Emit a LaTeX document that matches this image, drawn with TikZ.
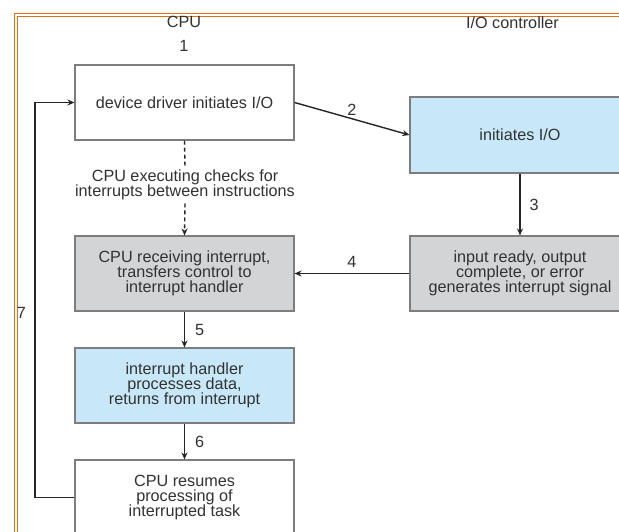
\documentclass[tikz,border=0pt]{standalone}
\usepackage{fontspec}
\setmainfont{Liberation Sans}
\usetikzlibrary{arrows.meta}
\definecolor{txt}{RGB}{50,50,50}
\definecolor{edge}{RGB}{125,125,125}
\definecolor{grayfill}{RGB}{211,212,214}
\definecolor{bluefill}{RGB}{200,232,249}
\definecolor{frameorange}{RGB}{222,112,24}
\tikzset{
  box/.style={draw=edge, line width=1.1pt, minimum width=219pt, minimum height=75pt, align=center, inner sep=0pt, text=txt},
  whitebox/.style={box, fill=white},
  graybox/.style={box, fill=grayfill},
  bluebox/.style={box, fill=bluefill},
  conn/.style={draw=black!85, line width=1.4pt, -{Stealth[length=7pt,width=6pt]}},
  plainconn/.style={draw=black!85, line width=1.4pt},
  lbl/.style={text=txt, inner sep=0pt, align=center},
}
\begin{document}
\begin{tikzpicture}[x=1pt,y=-1pt, font=\fontsize{16.2}{15.2}\selectfont]
\useasboundingbox (0,0) rectangle (619,531);
\clip (0,0) rectangle (619,531);
\fill[white] (0,0) rectangle (619,531);
% frame
\draw[frameorange, line width=1.4pt] (14.5,560) -- (14.5,13.5) -- (640,13.5);
\draw[frameorange, line width=1.4pt] (17.5,560) -- (17.5,16.5) -- (640,16.5);
% titles
\node[lbl] (cpu) at (184,22) {CPU};
\node[lbl] (ioc) at (512.5,22.5) {I/O controller};
\node[lbl] (n1) at (184,46) {1};
% boxes
\node[whitebox] (b1) at (184.5,102.5) {device driver initiates I/O};
\node[graybox] (b2) at (184.5,273.5) {CPU receiving interrupt,\\transfers control to\\interrupt handler};
\node[bluebox] (b3) at (184.5,385.5) {interrupt handler\\processes data,\\returns from interrupt};
\node[whitebox] (b4) at (184.5,497.5) {CPU resumes\\processing of\\interrupted task};
\node[bluebox, minimum width=220pt, minimum height=76pt] (io1) at (520,135) {initiates I/O};
\node[graybox, minimum width=220pt] (io2) at (520,273.5) {input ready, output\\complete, or error\\generates interrupt signal};
\node[lbl] (chk) at (185,185) {CPU executing checks for\\interrupts between instructions};
% connectors
\draw[conn] (b1.east) -- node[lbl, pos=0.5, above=3pt] {2} (io1.west);
\draw[conn] (io1.south) -- node[lbl, right=9pt] {3} (io2.north);
\draw[conn] (io2.west) -- node[lbl, above=5pt] {4} (b2.east);
\draw[conn] (b2.south) -- node[lbl, right=10pt] {5} (b3.north);
\draw[conn] (b3.south) -- node[lbl, right=10pt] {6} (b4.north);
\draw[plainconn, dash pattern=on 4pt off 3pt] (b1.south) -- ([yshift=3pt]chk.north);
\draw[conn, dash pattern=on 4pt off 3pt] ([yshift=-3pt]chk.south) -- (b2.north);
\coordinate (lp) at (35,300);
\draw[conn] (b4.west) -| (lp) |- (b1.west);
\node[lbl] (n7) at (21.5,313) {7};
\end{tikzpicture}
\end{document}
